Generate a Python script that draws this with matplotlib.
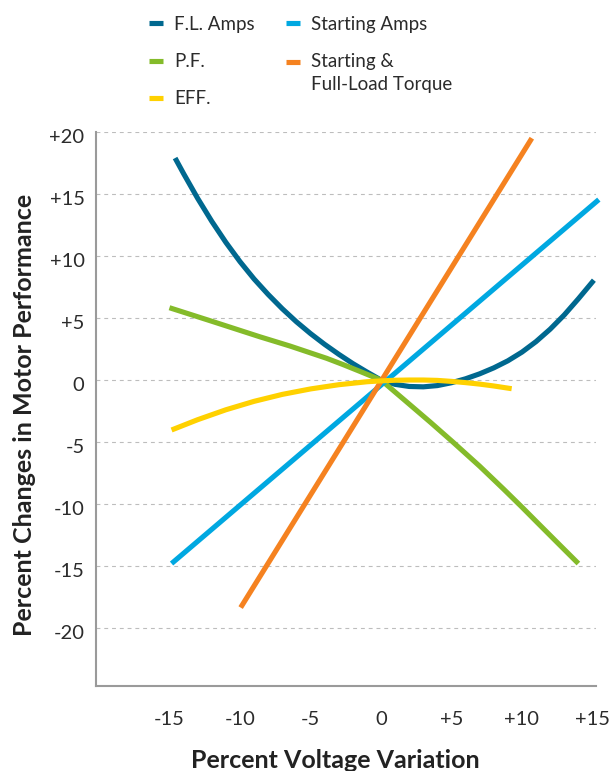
import matplotlib
matplotlib.use("Agg")
import numpy as np
import matplotlib.pyplot as plt
from matplotlib.lines import Line2D
from matplotlib.legend_handler import HandlerLine2D
from matplotlib.transforms import ScaledTranslation

plt.rcParams['font.family'] = ['Lato', 'DejaVu Sans']

# ---- data ----
volt_fl = [-14.6, -14, -13, -12, -11, -10, -9, -8, -7, -6, -5, -4, -3, -2, -1, 0,
           1, 2, 3, 4, 5, 6, 7, 8, 9, 10, 11, 12, 13, 14, 15.1]
fl_amps = [17.9, 16.65, 14.65, 12.8, 11.1, 9.55, 8.15, 6.9, 5.75, 4.7, 3.75, 2.88,
           2.08, 1.33, 0.65, 0.0,
           -0.35, -0.52, -0.55, -0.45, -0.22, 0.1, 0.5, 0.98, 1.55, 2.25, 3.1,
           4.1, 5.25, 6.55, 8.05]

volt_pf = [-15.0, -12.0, -8.6, -6.45, -3.85, -2.7, -1.5, 0.0,
           1.6, 3.5, 5.1, 7.0, 8.7, 10.0, 11.05, 12.5, 14.0]
pf = [5.83, 4.74, 3.49, 2.74, 1.75, 1.25, 0.7, 0.0,
      -1.55, -3.4, -5.0, -6.95, -8.8, -10.25, -11.45, -13.1, -14.8]

volt_eff = [-14.85, -13, -11, -9, -7, -5, -3, -1, 0, 1, 2, 3, 4, 5, 6, 7, 8, 9.27]
eff = [-4.03, -3.2, -2.4, -1.72, -1.16, -0.72, -0.38, -0.14, -0.07, -0.02, 0.0,
       0.0, -0.03, -0.11, -0.21, -0.33, -0.48, -0.7]

volt_start_amps = [-14.85, 15.45]
start_amps = [-14.8, 14.55]

volt_torque = [-9.95, 10.7]
torque = [-18.35, 19.5]

x_ticks = [-15, -10, -5, 0, 5, 10, 15]
x_tick_labels = ["-15", "-10", "-5", "0", "+5", "+10", "+15"]
y_ticks = [-20, -15, -10, -5, 0, 5, 10, 15, 20]
y_tick_labels = ["-20", "-15", "-10", "-5", "0", "+5", "+10", "+15", "+20"]

series_names = ["F.L. Amps", "P.F.", "EFF.", "Starting Amps", "Starting &\nFull-Load Torque"]
colors = {"fl": "#00688f", "pf": "#84bb2a", "eff": "#ffd100",
          "sa": "#00a8e1", "tq": "#f58220"}

# ---- figure ----
W, H = 615, 771
fig = plt.figure(figsize=(W / 100, H / 100), dpi=100)
ax_l, ax_r, ax_t, ax_b = 95.7, 596, 132, 685.7
ax = fig.add_axes([ax_l / W, 1 - ax_b / H, (ax_r - ax_l) / W, (ax_b - ax_t) / H])
ax.set_xlim(-20.23, 15.25)
ax.set_ylim(-24.65, 20.0)

# grid
for yv in y_ticks:
    ax.axhline(yv, color="#bdbdbd", lw=0.8, ls=(0, (3.5, 3.5)), zorder=1)

lw = 3.7
kw = dict(lw=lw, solid_capstyle="butt", solid_joinstyle="round", clip_on=False, zorder=3)
ax.plot(volt_fl, fl_amps, color=colors["fl"], **kw)
ax.plot(volt_pf, pf, color=colors["pf"], **kw)
ax.plot(volt_start_amps, start_amps, color=colors["sa"], **kw)
ax.plot(volt_torque, torque, color=colors["tq"], **kw)
ax.plot(volt_eff, eff, color=colors["eff"], **kw)

# spines
for s in ["top", "right"]:
    ax.spines[s].set_visible(False)
for s in ["left", "bottom"]:
    ax.spines[s].set_color("#9a9a9a")
    ax.spines[s].set_linewidth(1.5)

ax.set_xticks(x_ticks)
ax.set_xticklabels(x_tick_labels)
ax.set_yticks(y_ticks)
ax.set_yticklabels(y_tick_labels)
ax.tick_params(axis="both", length=0, labelsize=14.5, labelcolor="#2b2b2b")
ax.tick_params(axis="x", pad=18)
ax.tick_params(axis="y", pad=8)
for lab in ax.get_yticklabels():
    lab.set_transform(lab.get_transform() + ScaledTranslation(0, -4 / 100, fig.dpi_scale_trans))

ax.set_xlabel("Percent Voltage Variation", fontsize=18, fontweight="bold",
              color="#222222", va="center")
ax.xaxis.set_label_coords((335 - ax_l) / (ax_r - ax_l), (ax_b - 760) / (ax_b - ax_t))
ax.set_ylabel("Percent Changes in Motor Performance", fontsize=18, fontweight="bold",
              color="#222222", va="center")
ax.yaxis.set_label_coords((25 - ax_l) / (ax_r - ax_l), (ax_b - 415) / (ax_b - ax_t))


# legend
class TopHandler(HandlerLine2D):
    def __init__(self, dy, **kw):
        super().__init__(**kw)
        self.dy = dy

    def create_artists(self, legend, orig_handle, xdescent, ydescent, width,
                       height, fontsize, trans):
        arts = super().create_artists(legend, orig_handle, xdescent, ydescent,
                                      width, height, fontsize, trans)
        for a in arts:
            if isinstance(a, Line2D):
                a.set_ydata(np.asarray(a.get_ydata()) + self.dy)
        return arts


handles = [Line2D([], [], color=colors[k], lw=3.7, solid_capstyle="butt")
           for k in ["fl", "pf", "eff", "sa", "tq"]]
leg = fig.legend(handles, series_names, ncol=2, frameon=False,
                 loc="upper left", bbox_to_anchor=(134 / W, 1 - 1 / H),
                 fontsize=13.5, handlelength=0.75, handletextpad=0.6,
                 columnspacing=1.65, labelspacing=1.07, borderpad=0.3,
                 handler_map={handles[4]: TopHandler(dy=8)})
for t in leg.get_texts():
    t.set_color("#2b2b2b")
    t.set_linespacing(1.4)

fig.savefig("out.png", dpi=100)
